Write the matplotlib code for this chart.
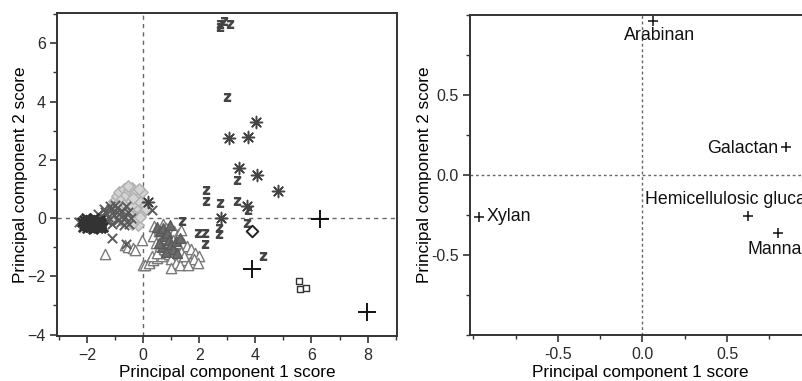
import matplotlib.pyplot as plt
from matplotlib.ticker import FixedLocator

plt.rcParams["font.family"] = ["Liberation Sans", "DejaVu Sans"]

# ---- left panel: sample scores ----
# dark core of the cross group
core_x = [-2.2, -2.15, -2.1, -2.05, -2.0, -1.95, -1.9, -1.85, -1.8, -1.75, -1.7, -1.65, -1.6, -1.55,
          -1.5, -1.45, -2.1, -2.0, -1.9, -1.8, -1.7, -1.6, -1.5, -2.05, -1.85, -1.65, -1.55, -1.75]
core_y = [-0.15, -0.3, -0.05, -0.25, -0.35, -0.1, -0.3, -0.2, -0.38, -0.1, -0.28, -0.15, -0.35, -0.05,
          -0.22, -0.3, -0.2, -0.15, -0.05, -0.25, -0.2, -0.1, -0.35, 0.0, -0.32, -0.3, -0.15, 0.02]
# mid grey crosses spreading up-right
cross_x = [-1.45, -1.35, -1.25, -1.15, -1.05, -0.95, -0.85, -0.75, -0.65, -0.55, -0.45, -1.3,
           -1.1, -0.9, -0.7, -0.6, -1.4, -1.0, -0.8, -1.2, -0.5, -2.3, -1.13, 0.3, -0.6, -1.6]
cross_y = [0.05, 0.2, 0.05, 0.3, 0.1, 0.35, 0.15, 0.25, 0.05, 0.2, 0.0, -0.1,
           -0.2, -0.05, -0.25, 0.4, 0.3, 0.45, -0.15, 0.4, -0.2, -0.12, -0.69, 0.28, -0.9, 0.15]

diam_x = [-1.15, -1.05, -1.0, -0.95, -0.9, -0.85, -0.8, -0.75, -0.7, -0.65, -0.6, -0.55, -0.5, -0.45,
          -0.4, -0.35, -0.3, -0.25, -0.2, -0.15, -0.1, -0.05, 0.0, 0.05, -0.9, -0.7, -0.5, -0.3,
          -0.2, -0.4, -0.6, -0.8, -1.0, -0.25, -0.1, 0.1, -0.55, -0.35, -0.15]
diam_y = [0.35, 0.6, 0.2, 0.75, 0.45, 0.9, 0.3, 0.65, 1.0, 0.5, 0.8, 0.25, 0.95, 0.6,
          1.05, 0.4, 0.85, 0.1, 0.7, 0.3, 0.55, 0.9, 0.2, 0.45, 0.1, 0.0, 0.15, -0.1,
          -0.25, -0.2, 0.05, -0.05, 0.0, 0.0, 0.05, 0.3, 1.1, 0.7, 1.0]

tri_x = [-1.35, -0.65, -0.55, -0.35, -0.3, -0.05, 0.0, 0.2, 0.35, 0.4, 0.55, 0.7, 0.8, 0.95, 1.1, 1.25, 1.35,
         0.05, 0.2, 0.35, 0.5, 0.65, 0.8, 0.95, 1.1, 1.25, 1.4, 1.55, 1.7, 1.85, 2.0,
         0.3, 0.5, 0.7, 0.9, 1.05, 1.2, 1.35, 1.5, 1.65, 1.8, 1.95,
         0.6, 0.75, 0.9, 1.0, 1.15, 1.3, 0.45, 1.0, 1.45, 1.6]
tri_y = [-1.22, -0.92, -1.0, -1.03, -1.1, -0.74, -1.6, -1.5, -0.63, -0.26, -0.45, -0.2, -0.35, -0.3, -0.45, -0.55, -0.4,
         -1.62, -1.55, -1.45, -1.38, -1.3, -1.2, -1.1, -1.0, -0.9, -0.85, -0.95, -1.05, -1.2, -1.3,
         -1.3, -1.2, -0.7, -0.6, -0.75, -0.85, -1.15, -1.45, -1.5, -1.4, -1.55,
         -0.95, -1.05, -1.25, -1.4, -1.55, -1.6, -0.85, -1.7, -1.3, -1.6]

dtri_x = [0.5, 0.6, 0.7, 0.75, 0.85, 0.9, 1.0, 1.05, 1.15, 0.65, 0.8, 0.95, 1.2, 0.55, 1.3]
dtri_y = [-0.3, -0.45, -0.35, -0.6, -0.5, -0.75, -0.9, -1.05, -0.8, -1.0, -1.15, -0.25, -1.2, -0.85, -0.7]

z_x = [2.74, 2.88, 3.1, 2.74, 2.98, 3.33, 2.23, 2.23, 2.74, 3.36, 3.75, 1.37, 1.94, 2.2, 2.19,
       2.7, 2.7, 3.69, 4.26]
z_y = [6.66, 6.76, 6.66, 6.56, 4.17, 1.31, 0.97, 0.6, 0.51, 0.57, 0.28, -0.1, -0.51, -0.51, -0.89,
       -0.34, -0.55, -0.17, -1.29]

ast_x = [4.03, 3.07, 3.73, 3.42, 4.05, 4.79, 3.71, 2.76, 0.18]
ast_y = [3.29, 2.74, 2.78, 1.73, 1.48, 0.94, 0.40, 0.0, 0.55]

plus_x = [6.31, 3.89, 7.98]
plus_y = [-0.03, -1.75, -3.24]

sq_x = [5.57, 5.58, 5.81]
sq_y = [-2.17, -2.43, -2.41]

odiam_x = [3.89]
odiam_y = [-0.46]

# ---- right panel: loadings ----
load_names = ["Arabinan", "Galactan", "Xylan", "Hemicellulosic glucan", "Mannan"]
load_x = [0.063, 0.848, -0.967, 0.621, 0.802]
load_y = [0.959, 0.175, -0.263, -0.256, -0.366]

fig = plt.figure(figsize=(8.02, 3.81), dpi=100)
ax1 = fig.add_axes([0.071, 0.118, 0.424, 0.847])
ax2 = fig.add_axes([0.586, 0.121, 0.426, 0.840])

spine_c = "#333333"
for ax in (ax1, ax2):
    for s in ax.spines.values():
        s.set_color(spine_c)
        s.set_linewidth(1.4)
    ax.tick_params(which="both", direction="out", color=spine_c, labelcolor="#2a2a2a",
                   labelsize=11.5, top=False, right=False)
    ax.tick_params(which="major", length=5, width=1.2)
    ax.tick_params(which="minor", length=3, width=1.0)
    ax.tick_params(axis="x", which="major", pad=3.5)
    ax.tick_params(axis="y", which="major", pad=3)

# left panel
ax1.axhline(0, color="#666666", lw=1, ls=(0, (3, 3)), zorder=1)
ax1.axvline(0, color="#666666", lw=1, ls=(0, (3, 3)), zorder=1)
ax1.scatter(diam_x, diam_y, marker="D", s=34, facecolors="#d4d4d4", edgecolors="#b0b0b0", lw=1, zorder=2)
ax1.scatter(cross_x, cross_y, marker="x", s=45, color="#5a5a5a", lw=1.4, zorder=3)
ax1.scatter(core_x, core_y, marker="x", s=45, color="#2e2e2e", lw=2.0, zorder=3)
ax1.scatter(core_x, core_y, marker="h", s=30, color="#333333", lw=0, zorder=3)
ax1.scatter(tri_x, tri_y, marker="^", s=55, facecolors="white", edgecolors="#7a7a7a", lw=1, zorder=2)
ax1.scatter(dtri_x, dtri_y, marker="^", s=50, facecolors="#6a6a6a", edgecolors="#5a5a5a", lw=1, zorder=3)
ax1.scatter(z_x, z_y, marker=r"$\mathsf{z}$", s=30, color="#444444", zorder=3)
ax1.scatter(ast_x, ast_y, marker=(8, 2, 0), s=75, color="#444444", lw=1.1, zorder=3)
ax1.scatter(plus_x, plus_y, marker="+", s=160, color="#111111", lw=1.4, zorder=3)
ax1.scatter(sq_x, sq_y, marker="s", s=25, facecolors="white", edgecolors="#333333", lw=1, zorder=3)
ax1.scatter(odiam_x, odiam_y, marker="D", s=35, facecolors="white", edgecolors="#222222", lw=1.4, zorder=3)

ax1.set_xlim(-3.08, 9.05)
ax1.set_ylim(-4.05, 7.03)
ax1.xaxis.set_major_locator(FixedLocator([-2, 0, 2, 4, 6, 8]))
ax1.xaxis.set_minor_locator(FixedLocator([-3, -1, 1, 3, 5, 7, 9]))
ax1.yaxis.set_major_locator(FixedLocator([-4, -2, 0, 2, 4, 6]))
ax1.yaxis.set_minor_locator(FixedLocator([-3, -1, 1, 3, 5, 7]))
ax1.set_xlabel("Principal component 1 score", fontsize=12.3)
ax1.set_ylabel("Principal component 2 score", fontsize=12.3)
ax1.xaxis.set_label_coords(0.5, -0.09)
ax1.yaxis.set_label_coords(-0.084, 0.5)

# right panel
ax2.axhline(0, color="#666666", lw=1, ls=(0, (2, 2)), zorder=1)
ax2.axvline(0, color="#666666", lw=1, ls=(0, (2, 2)), zorder=1)
ax2.scatter(load_x, load_y, marker="+", s=60, color="#111111", lw=1.1, zorder=3, clip_on=False)

txt = dict(fontsize=12.8, color="#111111", clip_on=False)
ax2.text(load_x[0] + 0.04, load_y[0] - 0.035, load_names[0], ha="center", va="top", **txt)
ax2.text(load_x[1] - 0.045, load_y[1] - 0.01, load_names[1], ha="right", va="center", **txt)
ax2.text(load_x[2] + 0.045, load_y[2], load_names[2], ha="left", va="center", **txt)
ax2.text(0.012, -0.155, load_names[3], ha="left", va="center", **txt)
ax2.text(load_x[4] - 0.18, load_y[4] - 0.1, load_names[4], ha="left", va="center", **txt)

ax2.set_xlim(-1.02, 1.0)
ax2.set_ylim(-1.0, 1.0)
ax2.xaxis.set_major_locator(FixedLocator([-0.5, 0.0, 0.5]))
ax2.xaxis.set_minor_locator(FixedLocator([-1.0, -0.75, -0.25, 0.25, 0.75]))
ax2.yaxis.set_major_locator(FixedLocator([-0.5, 0.0, 0.5]))
ax2.yaxis.set_minor_locator(FixedLocator([-1.0, -0.75, -0.25, 0.25, 0.75, 1.0]))
ax2.xaxis.set_major_formatter(plt.FuncFormatter(lambda v, p: f"{v:.1f}"))
ax2.yaxis.set_major_formatter(plt.FuncFormatter(lambda v, p: f"{v:.1f}"))
ax2.set_xlabel("Principal component 1 score", fontsize=12.3)
ax2.set_ylabel("Principal component 2 score", fontsize=12.3)
ax2.xaxis.set_label_coords(0.5, -0.093)
ax2.yaxis.set_label_coords(-0.11, 0.5)

fig.savefig("out.png", dpi=100)
